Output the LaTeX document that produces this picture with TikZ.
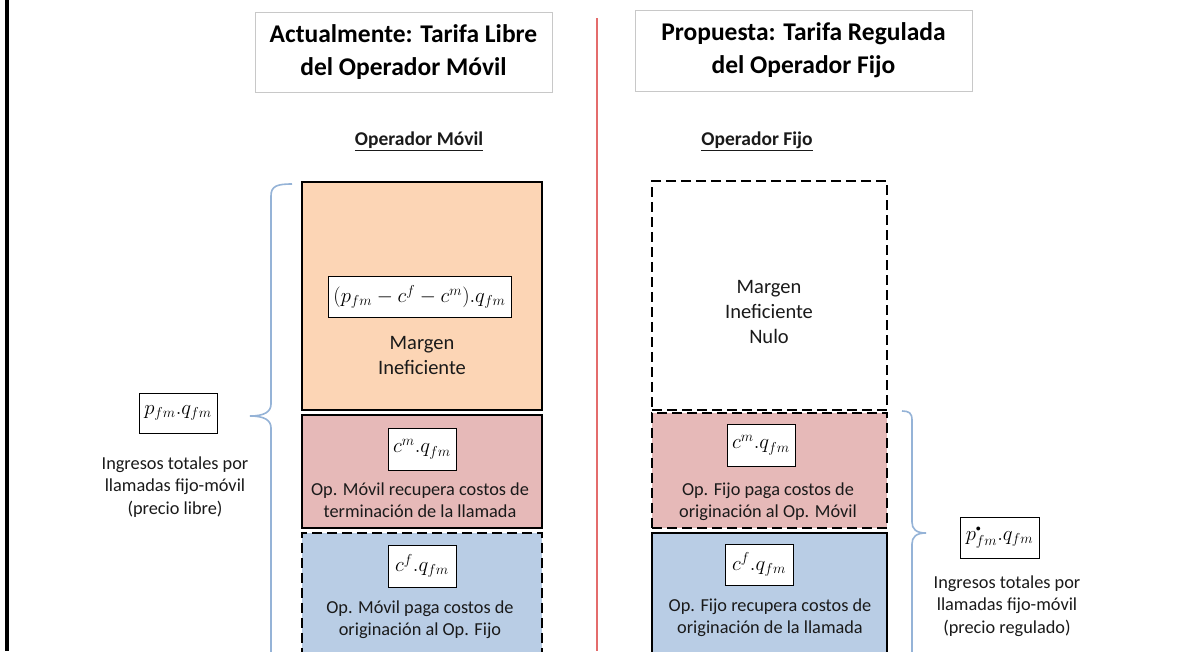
\documentclass[tikz,border=0pt]{standalone}
\usepackage{fontspec}
\setmainfont{Carlito}
\definecolor{orangefill}{HTML}{FCD5B5}
\definecolor{pinkfill}{HTML}{E6B9B8}
\definecolor{bluefill}{HTML}{B9CDE5}
\definecolor{bracecol}{HTML}{95B3D7}
\definecolor{redline}{HTML}{E46C6C}
\definecolor{titleborder}{HTML}{C8C8C8}
\definecolor{txt}{HTML}{1A1A1A}
\begin{document}
\begin{tikzpicture}[x=1pt,y=-1pt,
  titlebox/.style={draw=titleborder,line width=0.9pt,fill=white,inner sep=0pt,align=center,
    font=\fontsize{25.5}{33}\selectfont\bfseries,text=black},
  heading/.style={font=\fontsize{19.5}{22}\selectfont\bfseries,text=txt},
  solidbox/.style={draw=black,line width=2.8pt,inner sep=0pt},
  dashbox/.style={draw=black,line width=2.8pt,dash pattern=on 10pt off 5pt,inner sep=0pt},
  fbox/.style={draw=black,line width=0.9pt,fill=white,inner sep=0pt,font=\fontsize{20}{24}\selectfont},
  bodytext/.style={align=center,font=\fontsize{18.3}{22.5}\selectfont,text=txt},
  margentext/.style={align=center,font=\fontsize{20.5}{25}\selectfont,text=txt},
  bracestyle/.style={draw=bracecol,line width=1.6pt}
]
\clip (0,0) rectangle (1180,651);
\fill[white] (0,0) rectangle (1180,651);
% frame lines
\coordinate (bl1) at (7,0);
\coordinate (bl2) at (7,651);
\draw[line width=3.5pt,black] (bl1) -- (bl2);
\coordinate (rl1) at (597,18);
\coordinate (rl2) at (597,651);
\draw[line width=1.2pt,redline] (rl1) -- (rl2);

% titles
\node[titlebox,minimum width=297pt,minimum height=80pt] (tl) at (403.5,52) {Actualmente: Tarifa Libre\\del Operador Móvil};
\node[titlebox,minimum width=337pt,minimum height=81pt] (tr) at (803.5,50.5) {Propuesta: Tarifa Regulada\\del Operador Fijo};
\node[heading] (hl) at (419,141) {\underline{Operador Móvil}};
\node[heading] (hr) at (757,141) {\underline{Operador Fijo}};

% left column
\node[solidbox,fill=orangefill,minimum width=240pt,minimum height=228pt] (lo) at (422,296) {};
\node[solidbox,fill=pinkfill,minimum width=240pt,minimum height=113pt] (lp) at (422,471.5) {};
\node[dashbox,fill=bluefill,minimum width=240pt,minimum height=140pt] (lb) at (422,603) {};

\node[fbox,minimum width=183pt,minimum height=41pt] (f1) at (419.5,297) {$(p_{fm}-c^{f}-c^{m}).q_{fm}$};
\node[margentext] (t1) at (422,355.5) {Margen\\Ineficiente};
\node[fbox,minimum width=68pt,minimum height=42pt] (f2) at (422,449) {$c^{m}.q_{fm}$};
\node[bodytext] (t2) at (420,500) {Op. Móvil recupera costos de\\terminación de la llamada};
\node[fbox,minimum width=68pt,minimum height=42pt] (f3) at (422,566) {$c^{f}.q_{fm}$};
\node[bodytext] (t3) at (420,619.5) {Op. Móvil paga costos de\\originación al Op. Fijo};

% right column
\node[dashbox,fill=white,minimum width=235pt,minimum height=229pt] (rw) at (769.5,295.5) {};
\node[dashbox,fill=pinkfill,minimum width=235pt,minimum height=115pt] (rp) at (769.5,470.5) {};
\node[solidbox,fill=bluefill,minimum width=235pt,minimum height=140pt] (rb) at (769.5,603) {};

\node[margentext] (t4) at (769,312) {Margen\\Ineficiente\\Nulo};
\node[fbox,minimum width=68pt,minimum height=42pt] (f4) at (761,445) {$c^{m}.q_{fm}$};
\node[bodytext] (t5) at (768,501.5) {Op. Fijo paga costos de\\originación al Op. Móvil};
\node[fbox,minimum width=68pt,minimum height=41pt] (f5) at (759,564.5) {$c^{f}.q_{fm}$};
\node[bodytext] (t6) at (770,617.5) {Op. Fijo recupera costos de\\originación de la llamada};

% left total
\node[fbox,minimum width=78pt,minimum height=40pt] (f6) at (178,413) {$p_{fm}.q_{fm}$};
\node[bodytext] (t7) at (175,487) {Ingresos totales por\\llamadas fijo-móvil\\(precio libre)};

% right total
\node[fbox,minimum width=79pt,minimum height=41pt] (f7) at (999.5,537.5) {$p^{\raisebox{2pt}{$\scriptscriptstyle\bullet$}}_{fm}.q_{fm}$};
\node[bodytext] (t8) at (1007,606) {Ingresos totales por\\llamadas fijo-móvil\\(precio regulado)};

% braces
\coordinate (lbt) at (292,184);
\coordinate (lbb) at (271,660);
\draw[bracestyle] (lbt) .. controls (277,184) and (271,186) .. (271,196) -- (271,404)
  .. controls (271,412) and (264,416) .. (250,416)
  .. controls (264,416) and (271,420) .. (271,428) -- (lbb);
\coordinate (rbt) at (902,411);
\coordinate (rbb) at (912,660);
\draw[bracestyle] (rbt) .. controls (909,411) and (912,413) .. (912,420) -- (912,522)
  .. controls (912,529) and (916,533) .. (926,533)
  .. controls (916,533) and (912,537) .. (912,544) -- (rbb);
\end{tikzpicture}
\end{document}
